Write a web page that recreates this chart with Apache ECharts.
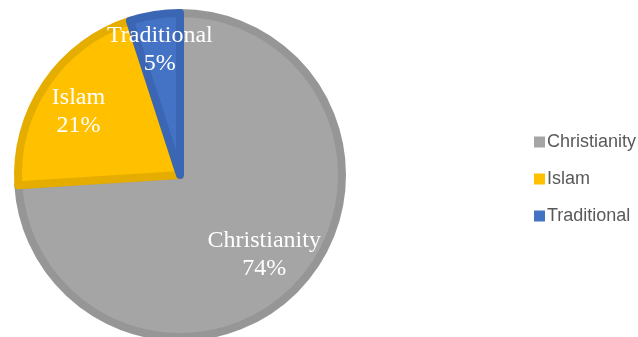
<!DOCTYPE html>
<html>
<head>
<meta charset="utf-8">
<script src="https://cdn.jsdelivr.net/npm/echarts@6/dist/echarts.min.js"></script>
<style>
  html, body { margin: 0; padding: 0; background: #fff; }
  #chart { width: 638px; height: 337px; }
</style>
</head>
<body>
<div id="chart"></div>
<script>
  // religion shares, percent
  var religions = ['Christianity', 'Islam', 'Traditional']
  var shares = [74, 21, 5]

  var fills = ['#A5A5A5', '#FFC000', '#4472C4']
  var borders = ['#969696', '#E5AD00', '#3B66B4']
  // nudge each label away from the half-radius spot
  var labelShift = [[23, 22], [-32, -16], [-7, -42]]

  var chart = echarts.init(document.getElementById('chart'))

  chart.setOption({
    animation: false,
    legend: {
      orient: 'vertical',
      left: 529,
      top: 128,
      itemWidth: 11,
      itemHeight: 11,
      itemGap: 19,
      icon: 'rect',
      itemStyle: { borderWidth: 0 },
      textStyle: {
        fontFamily: 'Liberation Sans',
        fontSize: 18,
        color: '#595959',
        padding: [0, 0, 0, -3]
      },
      data: religions
    },
    series: [{
      type: 'pie',
      center: [180, 175],
      radius: 162,
      startAngle: 90,
      clockwise: true,
      label: {
        show: true,
        position: 'inside',
        formatter: '{b}\n{c}%',
        color: '#fff',
        fontFamily: 'Liberation Serif',
        fontSize: 24,
        lineHeight: 28
      },
      labelLine: { show: false },
      labelLayout: function (p) {
        var s = labelShift[p.dataIndex]
        return { dx: s[0], dy: s[1] }
      },
      emphasis: { disabled: true },
      data: religions.map(function (name, i) {
        return {
          name: name,
          value: shares[i],
          itemStyle: {
            color: fills[i],
            borderColor: borders[i],
            borderWidth: 8
          }
        }
      })
    }]
  })
</script>
</body>
</html>
